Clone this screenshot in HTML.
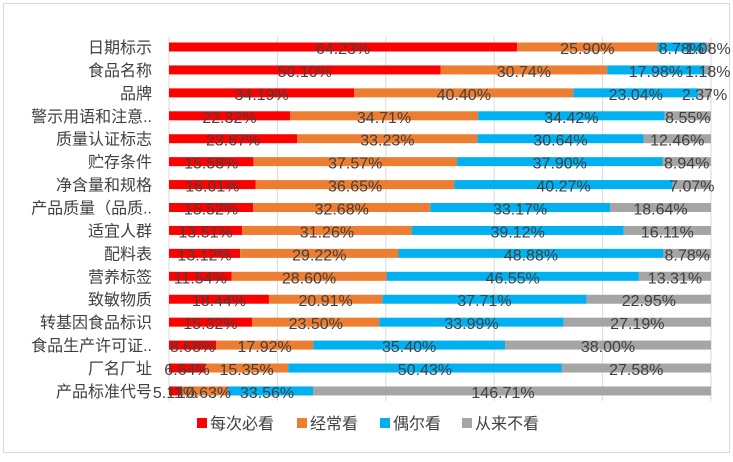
<!DOCTYPE html>
<html><head><meta charset="utf-8"><style>
body{margin:0;background:#fff;width:733px;height:457px;overflow:hidden}
text{font-family:"Liberation Sans","Noto Sans CJK SC",sans-serif;fill:#404040}
</style></head><body>
<svg id="s" width="733" height="457" xmlns="http://www.w3.org/2000/svg">
<rect x="3.5" y="3.5" width="726" height="449" fill="#fff" stroke="#d9d9d9"/>
</svg>
<script>
const d=[["日期标示",64.23,25.90,8.78,1.08],["食品名称",50.10,30.74,17.98,1.18],["品牌",34.19,40.40,23.04,2.37],["警示用语和注意..",22.32,34.71,34.42,8.55],["质量认证标志",23.67,33.23,30.64,12.46],["贮存条件",15.58,37.57,37.90,8.94],["净含量和规格",16.01,36.65,40.27,7.07],["产品质量（品质..",15.52,32.68,33.17,18.64],["适宜人群",13.51,31.26,39.12,16.11],["配料表",13.12,29.22,48.88,8.78],["营养标签",11.54,28.60,46.55,13.31],["致敏物质",18.44,20.91,37.71,22.95],["转基因食品标识",15.32,23.50,33.99,27.19],["食品生产许可证..",8.68,17.92,35.40,38.00],["厂名厂址",6.64,15.35,50.43,27.58],["产品标准代号",5.11,10.63,33.56,146.71]];
const c=["#ff0000","#ed7d31","#00b0f0","#a5a5a5"];
const x0=169,x1=711,k=(x1-x0)/100;let h='';
for(let i=0;i<=5;i++){const x=x0+i*20*k;h+=`<line x1="${x}" y1="37" x2="${x}" y2="401" stroke="#d9d9d9"/>`;}
d.forEach((r,i)=>{const y=47+i*22.93;let acc=0;
h+=`<text x="152" y="${y+6}" font-size="16" text-anchor="end">${r[0]}</text>`;
let lab='';
if(i==15){
 const seg=[[169,182],[182,228],[228,313],[313,711]],cx=[175,204,267,503];
 for(let j=0;j<4;j++){h+=`<rect x="${seg[j][0]}" y="${y-4.5}" width="${seg[j][1]-seg[j][0]}" height="9" fill="${c[j]}"/>`;
 lab+=`<text x="${cx[j]}" y="${y+7}" font-size="16" text-anchor="middle">${r[j+1].toFixed(2)}%</text>`;}
}else{
for(let j=0;j<4;j++){let a=x0+acc*k;acc+=r[j+1];let b=Math.min(x1,x0+acc*k);
h+=`<rect x="${a}" y="${y-4.5}" width="${Math.max(0,b-a)}" height="9" fill="${c[j]}"/>`;
lab+=`<text x="${(a+b)/2}" y="${y+7}" font-size="16" text-anchor="middle">${r[j+1].toFixed(2)}%</text>`;}}
h+=lab;});
const L=[["每次必看",197],["经常看",297],["偶尔看",380],["从来不看",462]];
L.forEach((l,j)=>{h+=`<rect x="${l[1]}" y="418" width="10" height="10" fill="${c[j]}"/><text x="${l[1]+13}" y="429" font-size="16">${l[0]}</text>`;});
document.getElementById('s').insertAdjacentHTML('beforeend',h);
</script>
</body></html>
